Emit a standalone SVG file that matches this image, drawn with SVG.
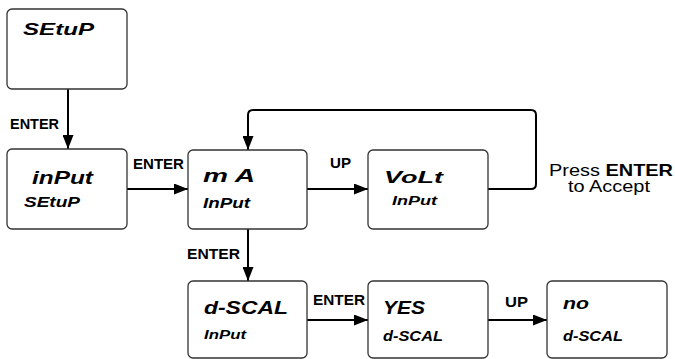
<svg xmlns="http://www.w3.org/2000/svg" width="675" height="359" viewBox="0 0 675 359">
<defs>
<style>
.box{fill:#fff;stroke:#333;stroke-width:1.3}
.seg{font-family:"Liberation Sans",Arial,sans-serif;font-weight:bold;font-style:italic;fill:#000}
.lbl{font-family:"Liberation Sans",Arial,sans-serif;font-weight:bold;font-size:14.5px;fill:#000}
.note{font-family:"Liberation Sans",Arial,sans-serif;font-size:16.5px;fill:#000}
.conn{fill:none;stroke:#000;stroke-width:2}
</style>
<marker id="ah" markerUnits="userSpaceOnUse" markerWidth="14" markerHeight="11" refX="14" refY="5.5" orient="auto">
<path d="M0,0 L14,5.5 L0,11 Z" fill="#000"/>
</marker>
</defs>
<rect width="675" height="359" fill="#fff"/>
<g id="connectors">
<path class="conn" d="M68,89 V149" marker-end="url(#ah)"/>
<path class="conn" d="M127,189 H188" marker-end="url(#ah)"/>
<path class="conn" d="M307,189 H368" marker-end="url(#ah)"/>
<path class="conn" d="M488,189 H531 Q536,189 536,184 V115 Q536,110 531,110 H253 Q248,110 248,115 V150" marker-end="url(#ah)"/>
<path class="conn" d="M248,229 V281" marker-end="url(#ah)"/>
<path class="conn" d="M307,320 H368" marker-end="url(#ah)"/>
<path class="conn" d="M488,320 H547" marker-end="url(#ah)"/>
<text class="lbl" x="10" y="129" textLength="49" lengthAdjust="spacingAndGlyphs">ENTER</text>
<text class="lbl" x="133" y="169" textLength="51" lengthAdjust="spacingAndGlyphs">ENTER</text>
<text class="lbl" x="330" y="168" textLength="21" lengthAdjust="spacingAndGlyphs">UP</text>
<text class="lbl" x="187" y="259" textLength="53" lengthAdjust="spacingAndGlyphs">ENTER</text>
<text class="lbl" x="313" y="305" textLength="52" lengthAdjust="spacingAndGlyphs">ENTER</text>
<text class="lbl" x="505" y="307" textLength="23" lengthAdjust="spacingAndGlyphs">UP</text>
</g>
<g id="note">
<text class="note" x="549" y="176" textLength="124" lengthAdjust="spacingAndGlyphs">Press <tspan font-weight="bold">ENTER</tspan></text>
<text class="note" x="568" y="192" textLength="82" lengthAdjust="spacingAndGlyphs">to Accept</text>
</g>
<g id="setup">
<rect class="box" x="7" y="9" width="120" height="80" rx="5"/>
<text class="seg" x="23" y="35" font-size="17" textLength="71" lengthAdjust="spacingAndGlyphs">SEtuP</text>
</g>
<g id="input">
<rect class="box" x="7" y="149" width="120" height="80" rx="5"/>
<text class="seg" x="32" y="184" font-size="18" textLength="61" lengthAdjust="spacingAndGlyphs">inPut</text>
<text class="seg" x="24" y="207" font-size="15" textLength="56" lengthAdjust="spacingAndGlyphs">SEtuP</text>
</g>
<g id="ma">
<rect class="box" x="188" y="150" width="119" height="79" rx="5"/>
<text class="seg" x="203" y="182" font-size="18" textLength="52" lengthAdjust="spacingAndGlyphs">m A</text>
<text class="seg" x="203" y="208" font-size="15" textLength="47" lengthAdjust="spacingAndGlyphs">InPut</text>
</g>
<g id="volt">
<rect class="box" x="368" y="150" width="120" height="79" rx="5"/>
<text class="seg" x="384" y="183" font-size="17" textLength="59" lengthAdjust="spacingAndGlyphs">VoLt</text>
<text class="seg" x="392" y="205" font-size="13" textLength="45" lengthAdjust="spacingAndGlyphs">InPut</text>
</g>
<g id="dscal">
<rect class="box" x="188" y="281" width="119" height="77" rx="5"/>
<text class="seg" x="204" y="314" font-size="18" textLength="84" lengthAdjust="spacingAndGlyphs">d-SCAL</text>
<text class="seg" x="204" y="339" font-size="13" textLength="42" lengthAdjust="spacingAndGlyphs">InPut</text>
</g>
<g id="yes">
<rect class="box" x="368" y="281" width="120" height="77" rx="5"/>
<text class="seg" x="383" y="314" font-size="19" textLength="42" lengthAdjust="spacingAndGlyphs">YES</text>
<text class="seg" x="383" y="341" font-size="15" textLength="60" lengthAdjust="spacingAndGlyphs">d-SCAL</text>
</g>
<g id="no">
<rect class="box" x="547" y="281" width="120" height="77" rx="5"/>
<text class="seg" x="563" y="309" font-size="17" textLength="26" lengthAdjust="spacingAndGlyphs">no</text>
<text class="seg" x="563" y="341" font-size="15" textLength="60" lengthAdjust="spacingAndGlyphs">d-SCAL</text>
</g>
</svg>
